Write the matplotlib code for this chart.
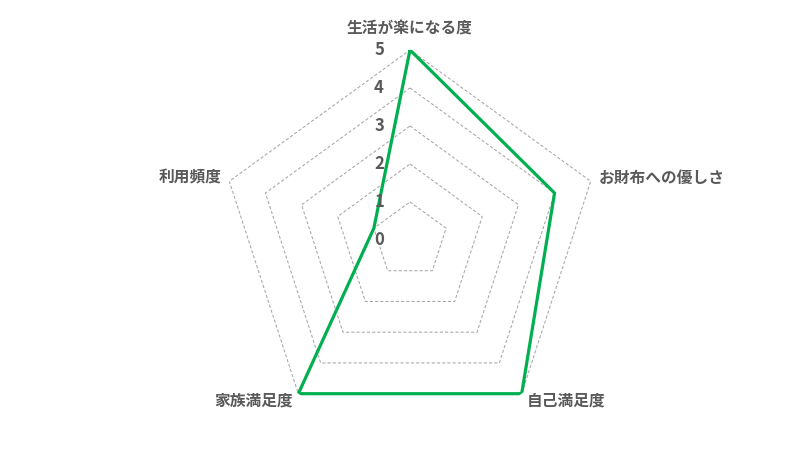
import numpy as np
import matplotlib.pyplot as plt

plt.rcParams['font.family'] = ['Noto Sans CJK JP', 'DejaVu Sans']

categories = ["生活が楽になる度", "お財布への優しさ", "自己満足度", "家族満足度", "利用頻度"]
values = [5, 4, 5, 5, 1]
levels = [0, 1, 2, 3, 4, 5]

text_color = "#595959"
line_color = "#00B050"
grid_color = "#A6A6A6"

n = len(categories)
theta = np.arange(n) * 2 * np.pi / n
theta_closed = np.append(theta, theta[0])

fig = plt.figure(figsize=(8, 4.53), dpi=100)
ax = fig.add_axes([0.275, 0.0508, 0.475, 0.8389], projection="polar")
ax.set_theta_offset(np.pi / 2)
ax.set_theta_direction(-1)
ax.set_ylim(0, 5)
ax.grid(False)
ax.spines["polar"].set_visible(False)
ax.set_xticks([])
ax.set_yticks([])
ax.patch.set_alpha(0)

# pentagon grid
for lv in levels[1:]:
    ax.plot(theta_closed, [lv] * (n + 1), color=grid_color, lw=0.75,
            linestyle=(0, (3, 2)), zorder=1)

# data line
vals_closed = values + values[:1]
ax.plot(theta_closed, vals_closed, color=line_color, lw=2.3, zorder=3,
        solid_joinstyle="miter")

# value axis labels
for lv in levels:
    ax.annotate(str(lv), xy=(0, lv), xytext=(-31, 0), textcoords="offset pixels",
                ha="center", va="center", fontsize=12, fontweight="bold",
                color=text_color)

# category labels
offsets = [(0, 21, "center"), (8, 3, "left"), (5, -7, "left"),
           (-5, -7, "right"), (-8, 4, "right")]
for t, lab, (dx, dy, ha) in zip(theta, categories, offsets):
    ax.annotate(lab, xy=(t, 5), xytext=(dx, dy), textcoords="offset pixels",
                ha=ha, va="center", fontsize=11.3, fontweight="bold",
                color=text_color, annotation_clip=False)

fig.savefig("out.png", dpi=100)
